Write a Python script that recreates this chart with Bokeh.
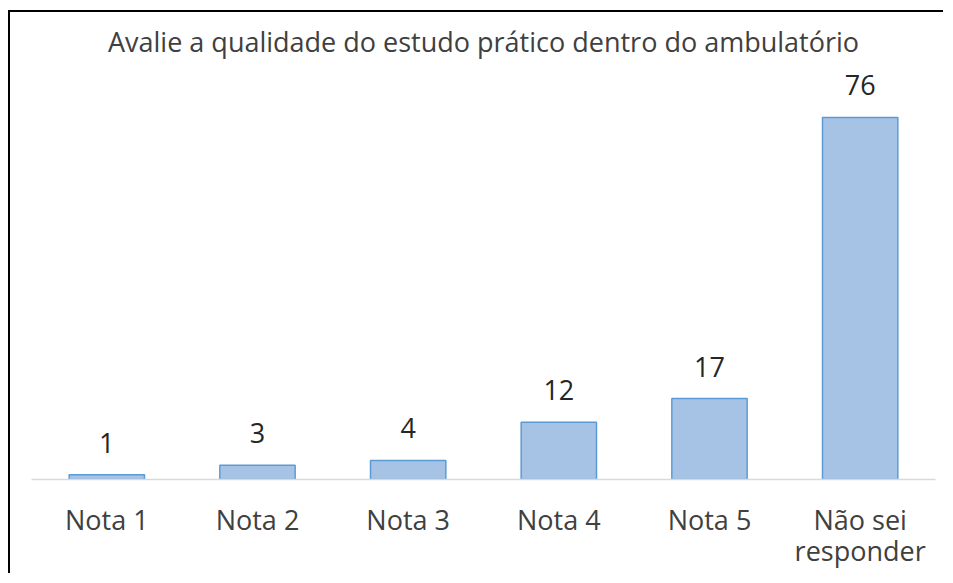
from bokeh.plotting import figure
from bokeh.models import ColumnDataSource, Range1d, Title, InlineStyleSheet
from bokeh.core.properties import value
from bokeh.embed import file_html
from bokeh.resources import INLINE

title_text = "Avalie a qualidade do estudo prático dentro do ambulatório"
categories = ["Nota 1", "Nota 2", "Nota 3", "Nota 4", "Nota 5", "Não sei\nresponder"]
counts = [1, 3, 4, 12, 17, 76]

src = ColumnDataSource(dict(cat=categories, val=counts, lab=[str(v) for v in counts]))

FONT = "Open Sans"
FS = "27px"
W, H = 943, 573

p = figure(x_range=categories, y_range=Range1d(0, 86.7),
           width=W, height=H, output_backend="svg", toolbar_location=None,
           min_border_left=31, min_border_right=8, min_border_bottom=94, min_border_top=66)

# chart-area border on the top and left (drawn behind a transparent canvas)
p.stylesheets = [InlineStyleSheet(css=":host { background-color: #ffffff; "
                                      "box-shadow: inset 8px 10px 0 0 #ffffff, "
                                      "inset 10px 12px 0 0 #000000; }")]
p.border_fill_color = None
p.background_fill_color = None

t = Title(text=title_text, align="center", text_font=FONT, text_font_size=FS,
          text_font_style="normal", text_color="#404040", standoff=13)
p.add_layout(t, "above")

p.vbar(x="cat", top="val", width=0.5, source=src,
       fill_color="#a6c3e6", line_color="#5b9bd5", line_width=1.5)

p.text(x="cat", y="val", text="lab", source=src, text_align="center",
       text_baseline="bottom", y_offset=-22, text_font=value(FONT),
       text_font_size=FS, text_color="#262626")

p.yaxis.visible = False
p.xgrid.grid_line_color = None
p.ygrid.grid_line_color = None
p.outline_line_color = None
p.xaxis.axis_line_color = "#d9d9d9"
p.xaxis.axis_line_width = 1.5
p.xaxis.major_tick_line_color = None
p.xaxis.minor_tick_line_color = None
p.xaxis.major_label_standoff = 15
p.xaxis.major_label_text_font = FONT
p.xaxis.major_label_text_font_size = FS
p.xaxis.major_label_text_line_height = 0.84
p.xaxis.major_label_text_color = "#404040"
p.x_range.range_padding = 0
p.x_range.factor_padding = 0

open("out.html", "w").write(file_html(p, INLINE))
